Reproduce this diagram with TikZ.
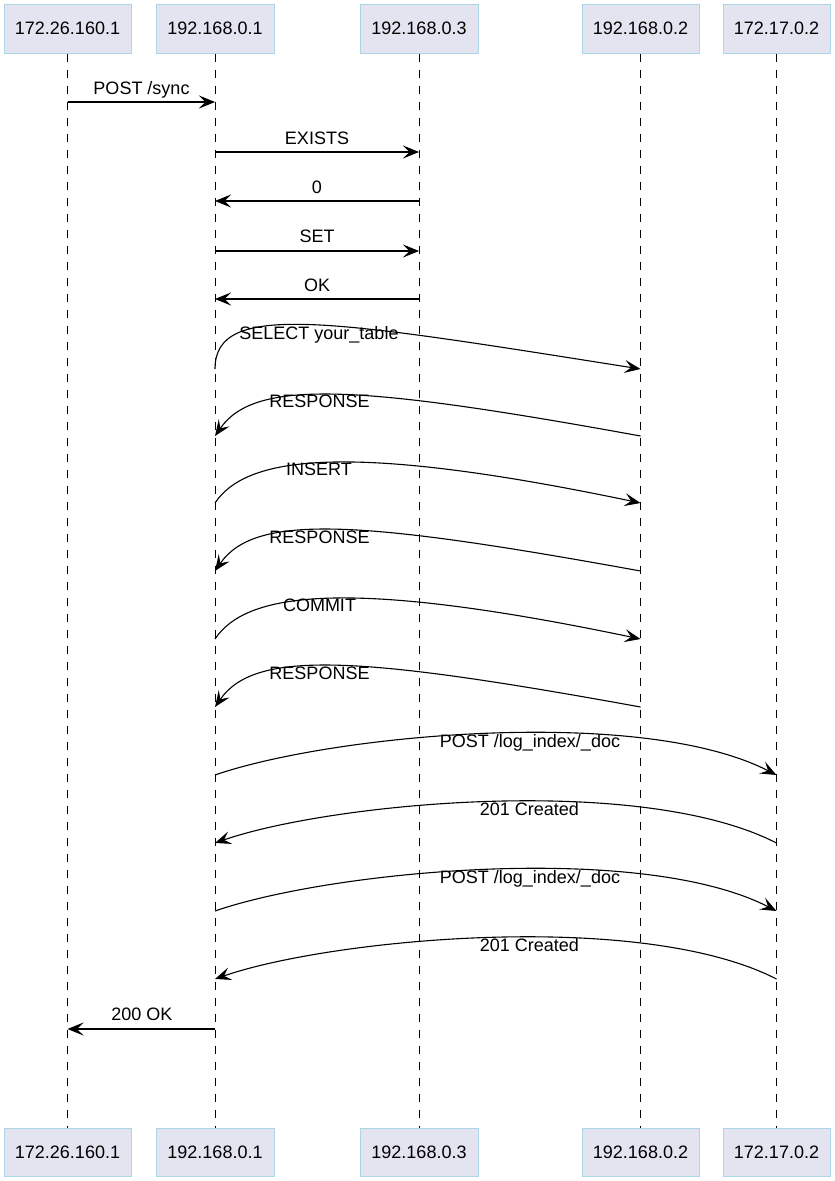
\documentclass[tikz,border=0pt]{standalone}
\usepackage{fontspec}
\setmainfont{Liberation Sans}
\usetikzlibrary{arrows.meta}
\definecolor{actfill}{RGB}{228,228,241}
\definecolor{actdraw}{RGB}{170,214,232}
\begin{document}
\begin{tikzpicture}[x=1pt,y=-1pt,
  actor/.style={draw=actdraw, fill=actfill, line width=1pt, inner sep=0pt,
    font=\fontsize{18}{21}\selectfont},
  life/.style={line width=0.9pt, dash pattern=on 8pt off 8pt},
  msg/.style={line width=1.1pt, -{Stealth[length=16pt,width=13pt,inset=6.5pt]}},
  lbl/.style={font=\fontsize{18}{21}\selectfont, inner sep=0pt, anchor=base}]
\useasboundingbox (0,0) rectangle (835,1181);
% top actors
\node[actor, minimum width=127pt, minimum height=49pt] (t1) at (67.5,28.5) {172.26.160.1};
\node[actor, minimum width=118pt, minimum height=49pt] (t2) at (215,28.5) {192.168.0.1};
\node[actor, minimum width=118pt, minimum height=49pt] (t3) at (419,28.5) {192.168.0.3};
\node[actor, minimum width=117pt, minimum height=49pt] (t4) at (640.5,28.5) {192.168.0.2};
\node[actor, minimum width=107pt, minimum height=49pt] (t5) at (776.5,28.5) {172.17.0.2};
% bottom actors
\node[actor, minimum width=127pt, minimum height=48pt] (b1) at (67.5,1152) {172.26.160.1};
\node[actor, minimum width=118pt, minimum height=48pt] (b2) at (215,1152) {192.168.0.1};
\node[actor, minimum width=118pt, minimum height=48pt] (b3) at (419,1152) {192.168.0.3};
\node[actor, minimum width=117pt, minimum height=48pt] (b4) at (640.5,1152) {192.168.0.2};
\node[actor, minimum width=107pt, minimum height=48pt] (b5) at (776.5,1152) {172.17.0.2};
% lifelines
\foreach \i in {1,...,5} {\draw[life] (t\i.south) -- (b\i.north);}
% straight messages
\draw[msg] (t1 |- 0,102) -- (t2 |- 0,102);
\node[lbl] (l1) at (141.5,94.5) {POST /sync};
\draw[msg] (t2 |- 0,152) -- (t3 |- 0,152);
\node[lbl] (l2) at (317,144) {EXISTS};
\draw[msg] (t3 |- 0,201) -- (t2 |- 0,201);
\node[lbl] (l3) at (317,193) {0};
\draw[msg] (t2 |- 0,251) -- (t3 |- 0,251);
\node[lbl] (l4) at (317,242) {SET};
\draw[msg] (t3 |- 0,299) -- (t2 |- 0,299);
\node[lbl] (l5) at (317,291.5) {OK};
% curved messages to 192.168.0.2
\draw[msg] (t2 |- 0,369) .. controls (215,300) and (330,320) .. (t4 |- 0,369);
\node[lbl] (l6) at (319,339.5) {SELECT your\_table};
\draw[msg] (t4 |- 0,436) .. controls (360,385) and (255,378) .. (t2 |- 0,436);
\node[lbl] (l7) at (319.5,407.5) {RESPONSE};
\draw[msg] (t2 |- 0,503) .. controls (245,458) and (340,440) .. (t4 |- 0,503);
\node[lbl] (l8) at (319,475.5) {INSERT};
\draw[msg] (t4 |- 0,571) .. controls (360,520) and (255,513) .. (t2 |- 0,571);
\node[lbl] (l9) at (319.5,543.5) {RESPONSE};
\draw[msg] (t2 |- 0,639) .. controls (245,594) and (340,576) .. (t4 |- 0,639);
\node[lbl] (l10) at (319.5,611.5) {COMMIT};
\draw[msg] (t4 |- 0,707) .. controls (360,656) and (255,649) .. (t2 |- 0,707);
\node[lbl] (l11) at (319.5,679.5) {RESPONSE};
% curved messages to 172.17.0.2
\draw[msg] (t2 |- 0,775) .. controls (330,735) and (640,705) .. (t5 |- 0,775);
\node[lbl] (l12) at (530,747.5) {POST /log\_index/\_doc};
\draw[msg] (t5 |- 0,843) .. controls (640,773) and (330,803) .. (t2 |- 0,843);
\node[lbl] (l13) at (529.5,815.5) {201 Created};
\draw[msg] (t2 |- 0,911) .. controls (330,871) and (640,841) .. (t5 |- 0,911);
\node[lbl] (l14) at (530,883.5) {POST /log\_index/\_doc};
\draw[msg] (t5 |- 0,979) .. controls (640,909) and (330,939) .. (t2 |- 0,979);
\node[lbl] (l15) at (529.5,951.5) {201 Created};
% final reply
\draw[msg] (t2 |- 0,1029) -- (t1 |- 0,1029);
\node[lbl] (l16) at (142,1020.5) {200 OK};
\end{tikzpicture}
\end{document}
